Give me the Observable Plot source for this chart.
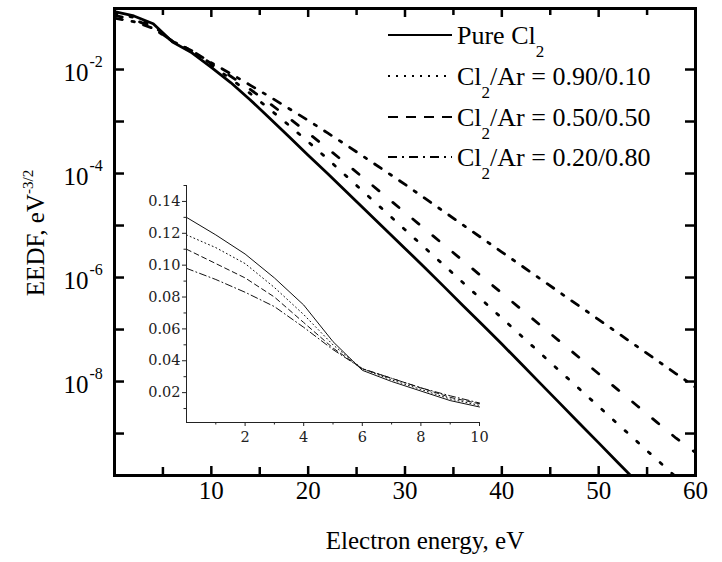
<!DOCTYPE html>
<html><head><meta charset="utf-8">
<script src="https://cdn.jsdelivr.net/npm/d3@7"></script>
<script src="https://cdn.jsdelivr.net/npm/@observablehq/plot@0.6"></script>
<style>
html,body{margin:0;padding:0;background:#fff;}
#wrap{position:relative;width:722px;height:562px;overflow:hidden;background:#fff;}
#wrap svg{position:absolute;overflow:visible;}
</style></head><body><div id="wrap"></div>
<script>
// ---- main plot data (EEDF, eV^-3/2 vs electron energy, eV) ----
const energy = [0,2,4,6,8,10,12,14,16,18,20,22,24,26,28,30,32,34,36,38,40,42,44,46,48,50,52,54,56,58,60];
const pureCl2 = [0.130,0.107,0.0759,0.0339,0.0209,0.011,5.62e-3,2.63e-3,1.17e-3,5.13e-4,2.24e-4,1.0e-4,4.37e-5,1.91e-5,8.32e-6,3.63e-6,1.58e-6,6.76e-7,2.88e-7,1.23e-7,5.25e-8,2.19e-8,9.12e-9,3.80e-9,1.58e-9,6.61e-10,2.75e-10,1.15e-10,4.8e-11,2.0e-11,8.3e-12];
const mix90 = [0.119,0.101,0.0692,0.0347,0.0219,0.012,6.61e-3,3.47e-3,1.74e-3,8.51e-4,4.07e-4,1.91e-4,8.71e-5,3.98e-5,1.82e-5,8.32e-6,3.80e-6,1.74e-6,7.94e-7,3.63e-7,1.66e-7,7.59e-8,3.47e-8,1.58e-8,7.24e-9,3.31e-9,1.51e-9,6.92e-10,3.16e-10,1.45e-10,6.6e-11];
const mix50 = [0.110,0.0912,0.0646,0.0347,0.0229,0.0129,7.41e-3,4.17e-3,2.24e-3,1.17e-3,6.03e-4,3.02e-4,1.51e-4,7.41e-5,3.63e-5,1.78e-5,8.71e-6,4.27e-6,2.09e-6,1.02e-6,5.01e-7,2.45e-7,1.20e-7,5.89e-8,2.88e-8,1.41e-8,6.92e-9,3.39e-9,1.66e-9,8.13e-10,4.3e-10];
const mix20 = [0.0977,0.0832,0.0617,0.0347,0.0229,0.0135,8.32e-3,5.01e-3,3.02e-3,1.78e-3,1.05e-3,6.03e-4,3.47e-4,1.95e-4,1.10e-4,6.17e-5,3.39e-5,1.86e-5,1.02e-5,5.62e-6,3.09e-6,1.70e-6,9.33e-7,5.13e-7,2.82e-7,1.55e-7,8.51e-8,4.68e-8,2.57e-8,1.41e-8,7.76e-9];

// ---- inset data (linear scale, 0-10 eV) ----
const energyInset = [0,1,2,3,4,5,6,7,8,9,10];
const pureInset = [0.130,0.119,0.107,0.092,0.075,0.052,0.034,0.027,0.021,0.015,0.011];
const mix90Inset = [0.119,0.111,0.101,0.086,0.069,0.050,0.035,0.028,0.022,0.016,0.012];
const mix50Inset = [0.110,0.101,0.092,0.080,0.064,0.048,0.035,0.029,0.023,0.017,0.013];
const mix20Inset = [0.098,0.091,0.083,0.074,0.061,0.047,0.035,0.029,0.023,0.018,0.0135];

// ---- ticks & labels ----
const xTickLabels = [10,20,30,40,50,60];
const xMajorTicks = [10,20,30,40,50];
const xMinorTicks = [5,15,25,35,45,55];
const yMajorTicks = [1e-2,1e-4,1e-6,1e-8];
const yExponents = ["-2","-4","-6","-8"];
const yMinorTicks = [1e-3,1e-5,1e-7,1e-9];
const insetYTicks = [0.02,0.04,0.06,0.08,0.10,0.12,0.14];
const insetYMinor = [0.01,0.03,0.05,0.07,0.09,0.11,0.13,0.15];
const insetXTicks = [2,4,6,8,10];
const insetXMinor = [1,3,5,7,9];
const seriesNames = ["Pure Cl2","Cl2/Ar = 0.90/0.10","Cl2/Ar = 0.50/0.50","Cl2/Ar = 0.20/0.80"];

const mainSeries = [pureCl2, mix90, mix50, mix20];
const insetSeries = [pureInset, mix90Inset, mix50Inset, mix20Inset];
const mainDash = [null, "2.5,13.3", "8,18", "8,9.75,2.5,9.75"];
const insetDash = [null, "1,3", "5,3.5", "7,3,1,3"];
const legendDash = [null, "2,6", "10,8", "9,5,2,5"];

const SERIF = "'Liberation Serif', Tinos, 'Times New Roman', Times, 'Nimbus Roman', 'DejaVu Serif', serif";
const wrap = document.getElementById("wrap");

// ---- main plot ----
const W = 722, H = 562, mL = 114, mR = 27, mT = 8, mB = 87;
const FW = W - mL - mR, FH = H - mT - mB;
const mainRows = mainSeries.map((arr, k) => energy.map((e, i) => ({e, v: arr[i], k})));
const mainMarks = mainRows.map((rows, k) => Plot.line(rows, {
  x: "e", y: "v", stroke: "black", strokeWidth: 2.8,
  strokeDasharray: mainDash[k] || undefined, clip: true
}));

const main = Plot.plot({
  width: W, height: H, marginLeft: mL, marginRight: mR, marginTop: mT, marginBottom: mB,
  style: {fontFamily: SERIF, background: "transparent", color: "black"},
  x: {domain: [0, 60], axis: null},
  y: {type: "log", domain: [1.56e-10, 0.149], axis: null},
  marks: [
    ...mainMarks,
    Plot.tickX(xMajorTicks, {x: d => d, insetTop: FH - 9, strokeWidth: 2.5}),
    Plot.tickX(xMinorTicks, {x: d => d, insetTop: FH - 8, strokeWidth: 2.5}),
    Plot.tickX(xMajorTicks, {x: d => d, insetBottom: FH - 9, strokeWidth: 2.5}),
    Plot.tickX(xMinorTicks, {x: d => d, insetBottom: FH - 7, strokeWidth: 2.5}),
    Plot.tickY(yMajorTicks, {y: d => d, insetRight: FW - 10, strokeWidth: 2.5}),
    Plot.tickY(yMinorTicks, {y: d => d, insetRight: FW - 10, strokeWidth: 2.5}),
    Plot.tickY(yMajorTicks, {y: d => d, insetLeft: FW - 10, strokeWidth: 2.5}),
    Plot.tickY(yMinorTicks, {y: d => d, insetLeft: FW - 10, strokeWidth: 2.5}),
    Plot.frame({stroke: "black", strokeWidth: 3}),
    Plot.text(xTickLabels, {x: d => d, text: d => String(d), frameAnchor: "bottom", dy: 23, fontSize: 25, fontFamily: SERIF}),
    Plot.text(yMajorTicks, {y: d => d, text: () => "10", frameAnchor: "left", textAnchor: "end", dx: -26, dy: 3, fontSize: 25, fontFamily: SERIF}),
    Plot.text(yMajorTicks.map((v, i) => ({v, e: yExponents[i]})), {y: "v", text: "e", frameAnchor: "left", textAnchor: "start", dx: -25, dy: -8, fontSize: 16, fontFamily: SERIF})
  ]
});
main.style.left = "0px"; main.style.top = "0px";
wrap.appendChild(main);

// ---- inset plot ----
const iL = 186, iR = 11, iT = 15, iB = 30, iLeft = 0, iTop = 170;
const iW = 479 + iR, iH = 422 - iTop + iB;
const insetDomainY = [0.00125, 0.15];
const insetRows = insetSeries.map((arr, k) => energyInset.map((e, i) => ({e, v: arr[i]})));
const inset = Plot.plot({
  width: iW, height: iH, marginLeft: iL, marginRight: iR, marginTop: iT, marginBottom: iB,
  style: {fontFamily: "'DejaVu Serif', serif", background: "transparent", color: "#222"},
  x: {domain: [0, 10]},
  y: {domain: insetDomainY},
  marks: [
    ...insetRows.map((rows, k) => Plot.line(rows, {x: "e", y: "v", stroke: "#111", strokeWidth: 1, strokeDasharray: insetDash[k] || undefined})),
    Plot.ruleX([0], {stroke: "#222", strokeWidth: 1}),
    Plot.ruleY([insetDomainY[0]], {stroke: "#222", strokeWidth: 1}),
    Plot.axisY(insetYTicks, {tickSize: 4, tickPadding: 2, tickFormat: d3.format(".2f"), fontSize: 14.5, label: null, strokeWidth: 1}),
    Plot.axisY(insetYMinor, {tickSize: 2.5, tickFormat: () => "", label: null, strokeWidth: 1}),
    Plot.axisX(insetXTicks, {tickSize: 4, tickPadding: 5, tickFormat: d => String(d), fontSize: 14.5, label: null, strokeWidth: 1}),
    Plot.axisX(insetXMinor, {tickSize: 2.5, tickFormat: () => "", label: null, strokeWidth: 1})
  ]
});
inset.style.left = iLeft + "px"; inset.style.top = iTop + "px";
wrap.appendChild(inset);

// ---- overlay: titles & legend ----
const svg = d3.select(wrap).append("svg")
  .attr("width", W).attr("height", H)
  .style("left", "0px").style("top", "0px")
  .attr("font-family", SERIF)
  .style("font-family", SERIF);

svg.append("text").attr("x", 425).attr("y", 549).attr("text-anchor", "middle")
  .attr("font-size", 25).text("Electron energy, eV");

const yt = svg.append("text").attr("transform", "translate(44,233) rotate(-90)")
  .attr("text-anchor", "middle").attr("font-size", 25);
yt.append("tspan").text("EEDF, eV");
yt.append("tspan").attr("dy", -11).attr("font-size", 15).text("-3/2");

const rowY = [35, 76, 117, 157];
seriesNames.forEach((name, i) => {
  const y = rowY[i];
  svg.append("line").attr("x1", 388).attr("x2", 452).attr("y1", y).attr("y2", y)
    .attr("stroke", "black").attr("stroke-width", 2)
    .attr("stroke-dasharray", legendDash[i]);
  const t = svg.append("text").attr("x", 457).attr("y", y + 9).attr("font-size", 26);
  const idx = name.indexOf("Cl2");
  t.append("tspan").text(name.slice(0, idx + 2));
  t.append("tspan").attr("dy", 13).attr("font-size", 17).text("2");
  const rest = name.slice(idx + 3);
  if (rest) t.append("tspan").attr("dy", -13).text(rest);
});
</script>
</body></html>
